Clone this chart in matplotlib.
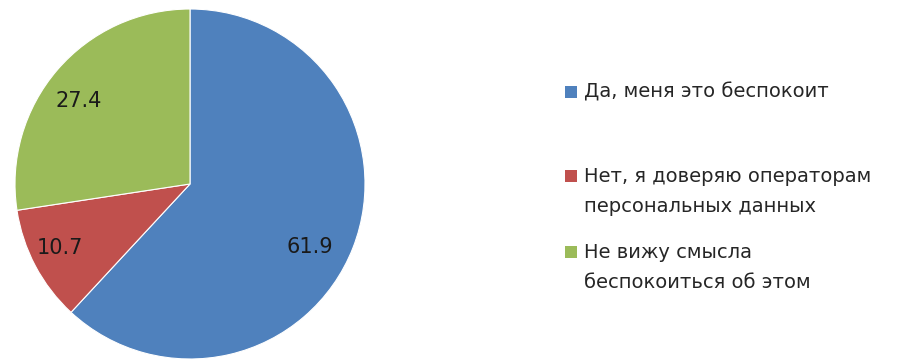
import matplotlib
matplotlib.use('Agg')
import matplotlib.pyplot as plt
from matplotlib.patches import Rectangle

# --- Survey answers (percent)
answers = ['Да, меня это беспокоит',
           'Нет, я доверяю операторам\nперсональных данных',
           'Не вижу смысла\nбеспокоиться об этом']
shares = [61.9, 10.7, 27.4]
colors = ['#4F81BD', '#C0504D', '#9BBB59']

W, H = 902, 362
fig = plt.figure(figsize=(W / 100, H / 100), dpi=100)
fig.patch.set_facecolor('white')

# --- Pie (pixel box: x 15..365, y 9..359 from top)
ax = fig.add_axes([15 / W, 3 / H, 350 / W, 350 / H])
wedges, _, pct = ax.pie(shares, colors=colors, startangle=90, counterclock=False,
                        autopct=lambda p: f'{p:.1f}', pctdistance=0.79,
                        wedgeprops=dict(edgecolor='white', linewidth=0.8),
                        textprops=dict(fontsize=15, color='#1a1a1a'))
# Excel puts the data labels a bit off the wedge bisector
label_pos = [(0.686, -0.36), (-0.743, -0.366), (-0.634, 0.474)]
for t, p in zip(pct, label_pos):
    t.set_position(p)
ax.set_xlim(-1.0, 1.0)
ax.set_ylim(-1.0, 1.0)
ax.set_aspect('equal')
ax.axis('off')

# --- Legend drawn by hand, Excel style spacing
legend_y = [92, 176, 252]  # top line centre of each entry, px from top
line_gap = 30
for y, name, c in zip(legend_y, answers, colors):
    fig.patches.append(Rectangle(((565) / W, 1 - (y + 6) / H), 12 / W, 12 / H,
                                 transform=fig.transFigure, facecolor=c,
                                 edgecolor='none'))
    for i, line in enumerate(name.split('\n')):
        fig.text(584 / W, 1 - (y + i * line_gap) / H, line, fontsize=14,
                 color='#262626', va='center', ha='left')

fig.savefig('out.png', dpi=100)
